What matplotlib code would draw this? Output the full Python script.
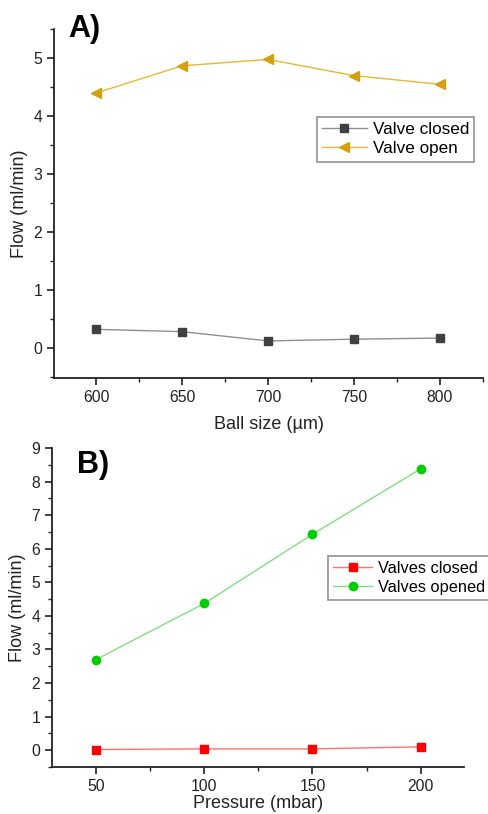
import matplotlib
matplotlib.use("Agg")
import matplotlib.pyplot as plt
from matplotlib.ticker import MultipleLocator

plt.rcParams['font.family'] = ['Liberation Sans', 'DejaVu Sans']

ball_size = [600, 650, 700, 750, 800]
valve_closed = [0.32, 0.28, 0.12, 0.15, 0.17]
valve_open = [4.40, 4.87, 4.98, 4.70, 4.55]

pressure = [50, 100, 150, 200]
valves_closed = [0.02, 0.04, 0.04, 0.10]
valves_opened = [2.70, 4.37, 6.43, 8.38]

fig = plt.figure(figsize=(4.89, 8.14), dpi=100)

def style(ax):
    ax.spines['top'].set_visible(False)
    ax.spines['right'].set_visible(False)
    for s in ('left', 'bottom'):
        ax.spines[s].set_linewidth(1.3)
        ax.spines[s].set_color('#222222')
    ax.tick_params(which='major', direction='out', length=5, width=1.2, labelsize=11.3, colors='#222222')
    ax.tick_params(which='minor', direction='out', length=3, width=1.0, colors='#222222')

# Panel A
axA = fig.add_axes([54/489, 1-378/814, (483-54)/489, (378-29.3)/814])
axA.plot(ball_size, valve_closed, color='#909090', lw=1.0, marker='s', ms=6,
         mfc='#404040', mec='#404040', label='Valve closed')
axA.plot(ball_size, valve_open, color='#e8b830', lw=1.0, marker='<', ms=7,
         mfc='#d4a010', mec='#d4a010', label='Valve open')
axA.set_xlim(575.5, 825)
axA.set_ylim(-0.52, 5.5)
axA.xaxis.set_major_locator(MultipleLocator(50))
axA.xaxis.set_minor_locator(MultipleLocator(25))
axA.yaxis.set_major_locator(MultipleLocator(1))
axA.yaxis.set_minor_locator(MultipleLocator(0.5))
style(axA)
axA.set_xlabel('Ball size (µm)', fontsize=13, labelpad=8, color='#222222')
axA.set_ylabel('Flow (ml/min)', fontsize=13, labelpad=4, color='#222222')
legA = axA.legend(loc='upper left', bbox_to_anchor=(317/489, 1-117/814),
                  bbox_transform=fig.transFigure, fontsize=12.3, frameon=True,
                  fancybox=False, edgecolor='#777777', borderpad=0.3,
                  labelspacing=0.25, handlelength=2.6, handletextpad=0.35,
                  borderaxespad=0)
legA.get_frame().set_linewidth(1.2)
fig.text(68/489, 1-29/814, 'A)', fontsize=22, fontweight='bold', va='center', ha='left')

# Panel B
axB = fig.add_axes([52/489, 1-767/814, (464-52)/489, (767-448)/814])
axB.plot(pressure, valves_closed, color='#ff7070', lw=1.0, marker='s', ms=6,
         mfc='#ff0000', mec='#ff0000', label='Valves closed')
axB.plot(pressure, valves_opened, color='#80e080', lw=1.0, marker='o', ms=6,
         mfc='#00cc00', mec='#00cc00', label='Valves opened')
axB.set_xlim(29.7, 220)
axB.set_ylim(-0.5, 9)
axB.xaxis.set_major_locator(MultipleLocator(50))
axB.xaxis.set_minor_locator(MultipleLocator(25))
axB.yaxis.set_major_locator(MultipleLocator(1))
axB.yaxis.set_minor_locator(MultipleLocator(0.5))
style(axB)
axB.set_xlabel('Pressure (mbar)', fontsize=13, labelpad=1, color='#222222')
axB.set_ylabel('Flow (ml/min)', fontsize=13, labelpad=4, color='#222222')
legB = axB.legend(loc='upper left', bbox_to_anchor=(328/489, 1-556/814),
                  bbox_transform=fig.transFigure, fontsize=11.8, frameon=True,
                  fancybox=False, edgecolor='#777777', borderpad=0.3,
                  labelspacing=0.25, handlelength=2.4, handletextpad=0.35,
                  borderaxespad=0)
legB.get_frame().set_linewidth(1.2)
fig.text(77/489, 1-465/814, 'B)', fontsize=22, fontweight='bold', va='center', ha='left')

fig.savefig('out.png', dpi=100)
